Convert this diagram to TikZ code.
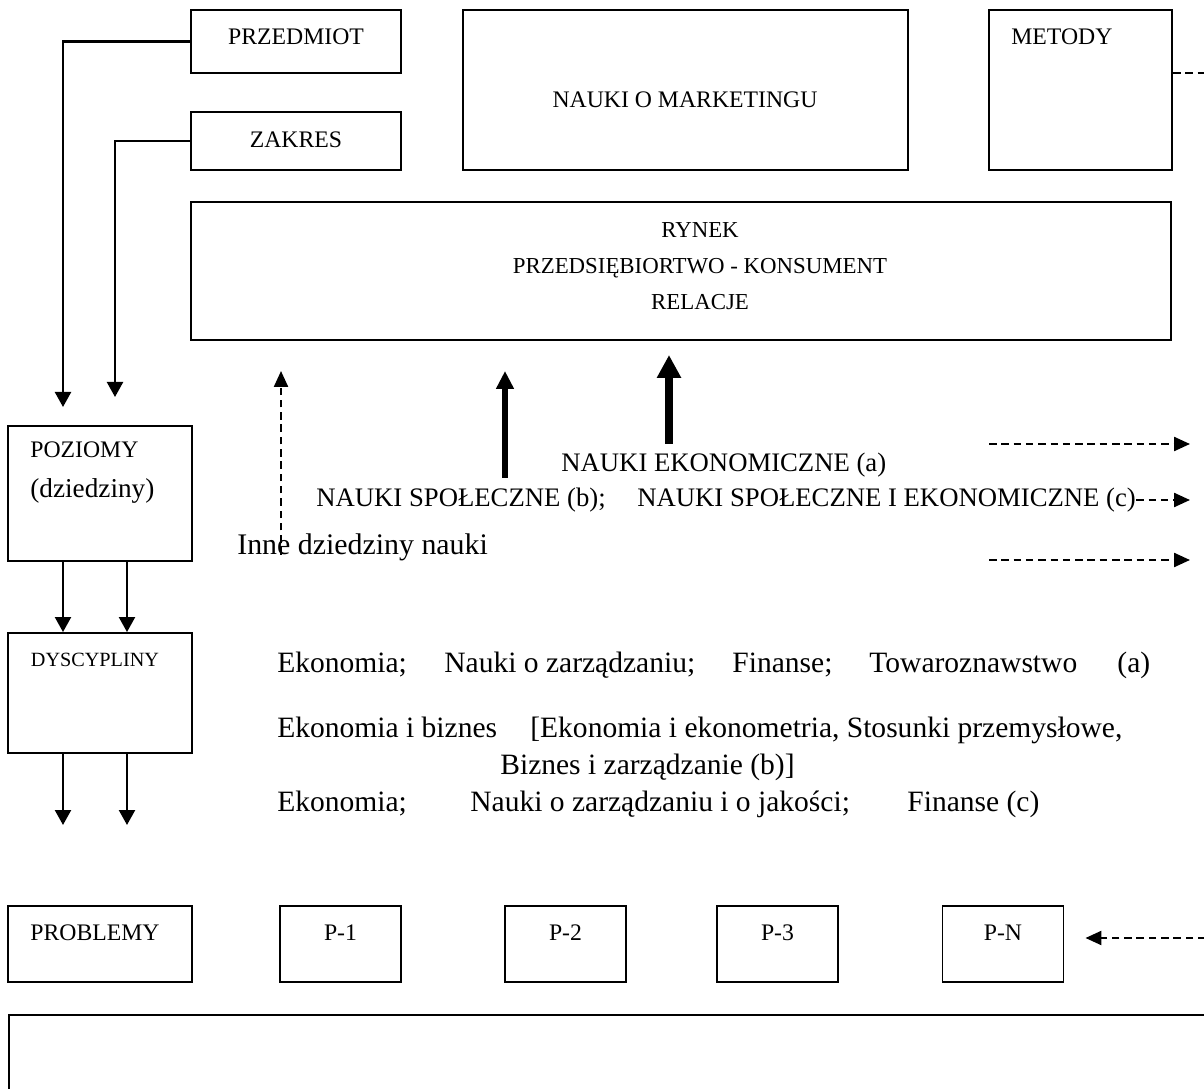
\documentclass[tikz,border=0pt]{standalone}
\usepackage{fontspec}
\setmainfont{Liberation Serif}
\usetikzlibrary{arrows.meta,calc}
\newcommand{\segm}[2]{\makebox[#1][l]{#2}}
\tikzset{
  >={Triangle[length=3mm,width=3.2mm]},
  bx/.style={draw=black,line width=1.1pt,rectangle,inner sep=0pt},
  btxt/.style={font=\fontsize{13.5}{20.5}\selectfont,align=center,inner sep=0pt},
  bsmall/.style={font=\fontsize{11.5}{14}\selectfont,inner sep=0pt},
  mtxt/.style={font=\fontsize{15.2}{18}\selectfont,anchor=west,inner sep=0pt},
  ltxt/.style={font=\fontsize{16.8}{19}\selectfont,anchor=west,inner sep=0pt},
  conn/.style={line width=1.3pt},
  dsh/.style={line width=1.3pt,dash pattern=on 4.3pt off 2.7pt,
    -{Triangle[length=3.2mm,width=2.8mm]}},
  thkA/.style={line width=3.4pt,-{Triangle[length=3.6mm,width=3.4mm]}},
  thkB/.style={line width=4.5pt,-{Triangle[length=4.6mm,width=4.6mm]}}
}
\begin{document}
\begin{tikzpicture}[x=1cm,y=1cm]
  \useasboundingbox (0,0) rectangle (24.08,21.76);
  \clip (0,0) rectangle (24.08,21.76);

  % upper row
  \node[bx,minimum width=4.20cm,minimum height=1.26cm] (przedmiot) at (5.92,20.93) {};
  \node[btxt] (przedmiotT) at (5.92,21.02) {PRZEDMIOT};
  \node[bx,minimum width=4.20cm,minimum height=1.16cm] (zakres) at (5.92,18.94) {};
  \node[btxt] (zakresT) at (5.92,18.96) {ZAKRES};
  \node[bx,minimum width=8.90cm,minimum height=3.20cm] (marketing) at (13.71,19.96) {};
  \node[btxt] (marketingT) at (13.70,19.76) {NAUKI O MARKETINGU};
  \node[bx,minimum width=3.66cm,minimum height=3.20cm] (metody) at (21.61,19.96) {};
  \node[btxt,anchor=west] (metodyT) at (20.22,21.02) {METODY};
  \node[bx,minimum width=19.60cm,minimum height=2.76cm] (rynek) at (13.62,16.34) {};
  \node[btxt,font=\fontsize{13}{20.5}\selectfont] (rynekT) at (14.00,16.44)
    {RYNEK\\PRZEDSIĘBIORTWO - KONSUMENT\\RELACJE};

  % left column
  \node[bx,minimum width=3.68cm,minimum height=2.70cm] (poziomy) at (2.00,11.89) {};
  \node[btxt,anchor=west,align=left,font=\fontsize{13.5}{22.8}\selectfont] (poziomyT) at (0.60,12.30)
    {POZIOMY\\{\fontsize{15.5}{22.8}\selectfont(dziedziny)}};
  \node[bx,minimum width=3.68cm,minimum height=2.40cm] (dyscypliny) at (2.00,7.90) {};
  \node[bsmall] (dyscyplinyT) at (1.90,8.56) {DYSCYPLINY};
  \node[bx,minimum width=3.68cm,minimum height=1.52cm] (problemy) at (2.00,2.88) {};
  \node[btxt] (problemyT) at (1.90,3.10) {PROBLEMY};

  \foreach \nm/\x/\t in {pOne/6.81/P-1,pTwo/11.31/P-2,pThree/15.55/P-3,pN/20.06/P-N} {
    \node[bx,minimum width=2.42cm,minimum height=1.52cm] (\nm) at (\x,2.88) {};
    \node[btxt] (\nm T) at (\x,3.10) {\t};
  }
  \node[bx,anchor=north west,minimum width=25cm,minimum height=3cm] (notes) at (0.16,1.48) {};

  % fields of science
  \node[mtxt] (ekonT) at (11.22,12.46) {NAUKI EKONOMICZNE (a)};
  \node[mtxt] (spolT) at (6.32,11.76)
    {\segm{6.42cm}{NAUKI SPOŁECZNE (b);}NAUKI SPOŁECZNE I EKONOMICZNE (c)};
  \node[mtxt,font=\fontsize{17}{19}\selectfont] (inneT) at (4.74,10.82) {Inne dziedziny nauki};

  % disciplines
  \node[ltxt] (lineA) at (5.54,8.46)
    {\segm{3.34cm}{Ekonomia;}\segm{5.76cm}{Nauki o zarządzaniu;}\segm{2.74cm}{Finanse;}\segm{4.96cm}{Towaroznawstwo}(a)};
  \node[ltxt] (lineB) at (5.54,7.16)
    {\segm{5.06cm}{Ekonomia i biznes}[Ekonomia i ekonometria, Stosunki przemysłowe,};
  \node[ltxt] (lineC) at (10.00,6.42) {Biznes i zarządzanie (b)]};
  \node[ltxt] (lineD) at (5.54,5.68)
    {\segm{3.86cm}{Ekonomia;}\segm{8.74cm}{Nauki o zarządzaniu i o jakości;}Finanse (c)};

  % connectors
  \coordinate (colA) at (1.26,13.62);
  \coordinate (colB) at (2.30,13.82);
  \coordinate (colC) at (2.54,0);
  \coordinate (dEnd) at (0,5.26);
  \draw[conn,->] (przedmiot.west) -| (colA);
  \draw[conn,->] (zakres.west) -| (colB);
  \foreach \c in {colA,colC} {
    \draw[conn,->] (poziomy.south -| \c) -- (dyscypliny.north -| \c);
    \draw[conn,->] (dyscypliny.south -| \c) -- (\c |- dEnd);
  }

  \coordinate (inneBot) at (5.62,10.66);
  \coordinate (inneTop) at (5.62,14.34);
  \draw[dsh] (inneBot) -- (inneTop);
  \coordinate (spolBot) at (10.10,12.20);
  \coordinate (spolTop) at (10.10,14.34);
  \draw[thkA] (spolBot) -- (spolTop);
  \coordinate (ekonBot) at (13.38,12.88);
  \coordinate (ekonTop) at (13.38,14.66);
  \draw[thkB] (ekonBot) -- (ekonTop);

  \coordinate (rA) at (19.78,12.88);
  \coordinate (rAend) at (23.80,12.88);
  \coordinate (rC) at (19.78,10.56);
  \coordinate (rCend) at (23.80,10.56);
  \draw[dsh] (rA) -- (rAend);
  \draw[dsh] (spolT.east) -- (spolT.east -| rAend);
  \draw[dsh] (rC) -- (rCend);

  \coordinate (mEnd) at (24.60,20.30);
  \draw[dsh,-] (metody.east |- mEnd) -- (mEnd);
  \coordinate (pnFrom) at (24.60,3.00);
  \draw[dsh,shorten >=0.42cm] (pnFrom) -- (pN.east |- pnFrom);
\end{tikzpicture}
\end{document}
